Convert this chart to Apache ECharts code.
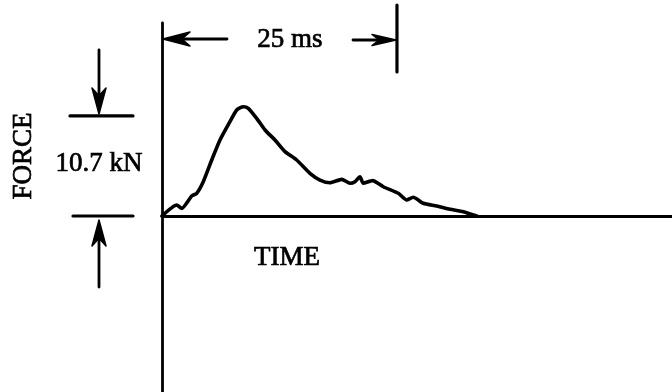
<!DOCTYPE html>
<html>
<head>
<meta charset="utf-8">
<script src="https://cdn.jsdelivr.net/npm/echarts@6/dist/echarts.min.js"></script>
<style>
html,body{margin:0;padding:0;background:#fff;}
#c{width:672px;height:392px;}
</style>
</head>
<body>
<div id="c"></div>
<script>
// Force pulse, time in ms, force in kN
const timeMs = [0, 1.56, 2.10, 3.16, 3.69, 4.39, 5.29, 6.17, 7.23, 7.95, 8.65, 9.18, 10.07, 10.96, 12.02, 13.09, 14.33, 15.74, 16.81, 17.87, 19.12, 20.0, 20.53, 21.06, 21.41, 22.41, 23.54, 25.14, 26.03, 26.73, 27.8, 29.22, 30.64, 32.05, 33.48];
const forceKN = [0, 1.18, 0.82, 2.14, 2.43, 3.67, 5.99, 8.13, 10.09, 11.34, 11.69, 11.52, 10.45, 9.20, 8.13, 6.88, 5.99, 4.57, 3.85, 3.56, 3.92, 3.5, 3.67, 4.2, 3.5, 3.78, 3.13, 2.43, 1.71, 2.0, 1.36, 1.07, 0.72, 0.46, 0];
// Dimension annotations
const dimTime = 25;      // ms
const dimForce = 10.7;   // kN
const timeLabel = '25 ms';
const forceLabel = '10.7 kN';
const xAxisName = 'TIME';
const yAxisName = 'FORCE';

const chart = echarts.init(document.getElementById('c'), null, {renderer: 'canvas'});
const FONT = '"Liberation Serif", "Times New Roman", serif';
const axisLineStyle = {color: '#000', width: 2.8};

chart.setOption({
  backgroundColor: '#fff',
  animation: false,
  grid: {left: 162, right: 0, top: 23, bottom: 0, containLabel: false},
  xAxis: {
    type: 'value', min: 0, max: 54.26,
    axisLine: {show: true, onZero: true, lineStyle: axisLineStyle},
    axisTick: {show: false}, axisLabel: {show: false}, splitLine: {show: false}
  },
  yAxis: {
    type: 'value', min: -18.82, max: 20.64,
    axisLine: {show: true, onZero: true, lineStyle: axisLineStyle},
    axisTick: {show: false}, axisLabel: {show: false}, splitLine: {show: false}
  },
  series: [{
    type: 'line',
    data: timeMs.map((t, i) => [t, forceKN[i]]),
    showSymbol: false,
    smooth: 0.2,
    lineStyle: {color: '#000', width: 3.6, join: 'round', cap: 'round'},
    z: 3
  }]
});

const o = chart.convertToPixel({gridIndex: 0}, [0, 0]);
const t25 = chart.convertToPixel({gridIndex: 0}, [dimTime, 0]);
const f = chart.convertToPixel({gridIndex: 0}, [0, dimForce]);

const stroke = {stroke: '#000', lineWidth: 2.8, lineCap: 'round'};
function line(x1, y1, x2, y2, w) {
  return {type: 'line', shape: {x1, y1, x2, y2}, style: Object.assign({}, stroke, w ? {lineWidth: w} : {}), silent: true};
}
// barbed arrowhead: tip at (x,y), pointing in direction (dx,dy)
function head(x, y, dx, dy, len, half) {
  const px = -dy, py = dx;
  const pts = [
    [x, y],
    [x - dx * len + px * half, y - dy * len + py * half],
    [x - dx * len * 0.7, y - dy * len * 0.7],
    [x - dx * len - px * half, y - dy * len - py * half]
  ];
  return {type: 'polygon', shape: {points: pts}, style: {fill: '#000', stroke: '#000', lineWidth: 1.5, lineJoin: 'round'}, silent: true};
}
function text(str, x, y, rot) {
  return {type: 'text', x, y, rotation: rot || 0, silent: true,
    style: {text: str, font: '27px ' + FONT, fill: '#000', stroke: '#000', lineWidth: 0.7,
      align: 'center', verticalAlign: 'middle'}};
}

const xa = o[0], xb = t25[0];
const ay = 39;
const fx = 99;
chart.setOption({
  graphic: [
    // 25 ms dimension
    line(xb, 5, xb, 72, 3.2),
    line(xa + 10, ay, 227, ay),
    head(xa + 1, ay, -1, 0, 27, 7),
    line(353, ay + 1, xb - 10, ay + 1),
    head(xb - 1, ay + 1, 1, 0, 24, 5.5),
    text(timeLabel, 290, 40),
    // 10.7 kN dimension
    line(70, f[1], 133, f[1], 3.2),
    line(73, o[1], 133, o[1], 3.2),
    line(fx, 50, fx, f[1] - 12),
    head(fx, f[1] - 2, 0, 1, 26, 7),
    line(fx, o[1] + 12, fx, 287),
    head(fx, o[1] + 4, 0, -1, 26, 7),
    text(forceLabel, 99, 164),
    // axis names
    text(yAxisName, 24, 156, Math.PI / 2),
    text(xAxisName, 287, 258)
  ]
});
</script>
</body>
</html>
